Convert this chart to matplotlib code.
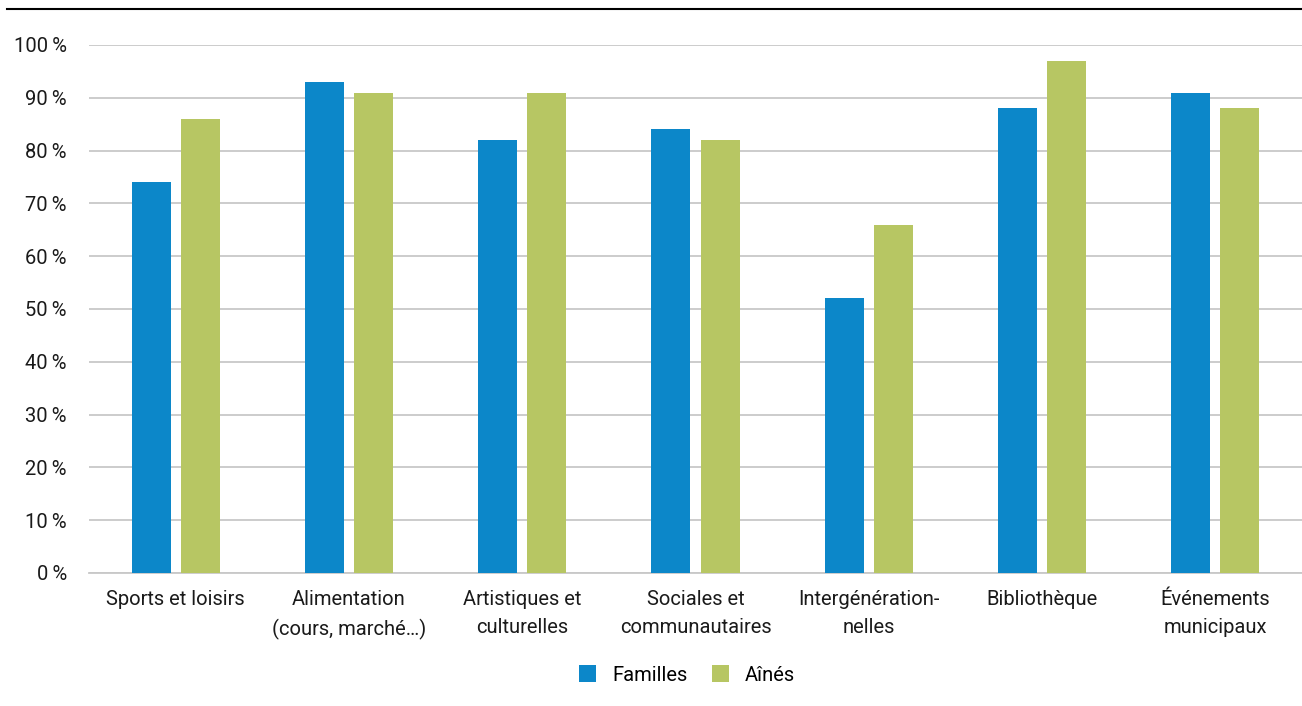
import matplotlib.pyplot as plt
import numpy as np
from matplotlib.lines import Line2D

plt.rcParams.update({
    "font.family": ["Roboto", "DejaVu Sans"],
    "font.size": 14.5,
    "figure.dpi": 100,
})

BLUE = "#0C87C9"
GREEN = "#B7C663"
GRID = "#C8C8C8"

categories = [
    "Sports et loisirs",
    "Alimentation\n(cours, marché…)",
    "Artistiques et\nculturelles",
    "Sociales et\ncommunautaires",
    "Intergénération-\nnelles",
    "Bibliothèque",
    "Événements\nmunicipaux",
]
familles = [74, 93, 82, 84, 52, 88, 91]
aines = [86, 91, 91, 82, 66, 97, 88]
yticks = [0, 10, 20, 30, 40, 50, 60, 70, 80, 90, 100]

fig = plt.figure(figsize=(13.02, 7.06))
ax = fig.add_axes([89 / 1302, 1 - 573 / 706, 1 - 89 / 1302, (573 - 45) / 706])

x = np.arange(len(categories))
w = 0.225
off = 0.1415
ax.bar(x - off, familles, w, color=BLUE, label="Familles", zorder=3)
ax.bar(x + off, aines, w, color=GREEN, label="Aînés", zorder=3)

ax.set_xlim(-0.5, len(categories) - 0.5)
ax.set_ylim(0, 100)
ax.set_yticks(yticks)
ax.set_yticklabels([f"{v}\u2009%" for v in yticks])
ax.set_xticks(x)
ax.set_xticklabels(categories, linespacing=1.6)
ax.tick_params(axis="both", length=0, labelsize=14.5, colors="#1a1a1a")
ax.tick_params(axis="y", pad=16)
ax.tick_params(axis="x", pad=12)
ax.yaxis.grid(True, color=GRID, linewidth=1.3, zorder=0)
ax.set_axisbelow(True)
for s in ["top", "right", "left"]:
    ax.spines[s].set_visible(False)
ax.spines["bottom"].set_color(GRID)
ax.spines["bottom"].set_linewidth(1.3)

fig.add_artist(Line2D([7 / 1302, 1], [1 - 9 / 706, 1 - 9 / 706], color="black", linewidth=1.5))

fig.legend(loc="center", bbox_to_anchor=(687 / 1302, 1 - 675 / 706), ncol=2,
           frameon=False, handlelength=0.85, handleheight=0.9, columnspacing=1.2,
           handletextpad=0.8, fontsize=14.5)

fig.savefig("out.png", dpi=100)
